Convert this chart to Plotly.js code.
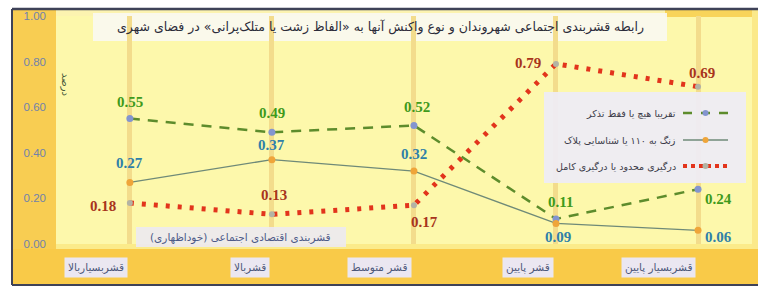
<!DOCTYPE html>
<html><head><meta charset="utf-8">
<script src="https://cdn.plot.ly/plotly-3.0.1.min.js"></script>
<style>html,body{margin:0;padding:0;background:#fff}#c{width:758px;height:289px}</style>
</head><body><div id="c"></div>
<script>
const categories = ["قشربسیاربالا", "قشربالا", "قشر متوسط", "قشر پایین", "قشربسیار پایین"];
const seriesNames = ["تقریبا هیچ یا فقط تذکر", "زنگ به ۱۱۰ یا شناسایی پلاک", "درگیری محدود یا درگیری کامل"];
const noneOrWarning = [0.55, 0.49, 0.52, 0.11, 0.24];
const callPolice = [0.27, 0.37, 0.32, 0.09, 0.06];
const conflict = [0.18, 0.13, 0.17, 0.79, 0.69];
const yTicks = [0, 0.2, 0.4, 0.6, 0.8, 1.0];
const titleText = "رابطه قشربندی اجتماعی شهروندان و نوع واکنش آنها به «الفاظ زشت یا متلک‌پرانی» در فضای شهری";
const xTitle = "قشربندی اقتصادی اجتماعی (خوداظهاری)";
const yTitle = "درصد";

// layout geometry (pixels)
const W = 758, H = 289, ML = 56, MR = 6, MT = 16, MB = 45;
const PW = W - ML - MR, PH = H - MT - MB;
function px(x){return (x - ML) / PW;}
function py(y){return (H - MB - y) / PH;}

// styles
const faFont = "DejaVu Sans";
const numFont = "Liberation Serif, DejaVu Serif, serif";
const styles = [
  {line: {color: "#5d8c2c", width: 2.5, dash: "10px,8px"}, marker: {color: "#8395cf", size: 7}, label: "#3f9a1c",
   shifts: [[0,17],[0,19],[3,18],[5,17],[20,-10]]},
  {line: {color: "#6f8a78", width: 1.3, dash: "solid"}, marker: {color: "#efa53a", size: 7}, label: "#2f80a8",
   shifts: [[0,19],[0,15],[0,17],[2,-14],[20,-7]]},
  {line: {color: "#e2341c", width: 5, dash: "4px,8px"}, marker: {color: "#b3b3a4", size: 6}, label: "#a8341c",
   shifts: [[-27,-3],[2,19],[11,-17],[-28,1],[4,14]]}
];
const series = [noneOrWarning, callPolice, conflict];

const traces = series.map((vals, i) => ({
  type: "scatter", mode: "lines+markers", x: categories, y: vals, name: seriesNames[i],
  line: styles[i].line, marker: styles[i].marker, showlegend: false, cliponaxis: false
}));

const annotations = [];
series.forEach((vals, i) => {
  vals.forEach((v, j) => {
    annotations.push({x: categories[j], y: v, xref: "x", yref: "y", text: v.toFixed(2), showarrow: false,
      xshift: styles[i].shifts[j][0], yshift: styles[i].shifts[j][1],
      font: {family: numFont, size: 15, color: styles[i].label, weight: "bold"}});
  });
});
// category labels
categories.forEach((c) => {
  annotations.push({x: c, xref: "x", y: py(267), yref: "paper", yanchor: "middle", xanchor: "right", xshift: -2,
    text: c, showarrow: false, bgcolor: "#ebe7f1", borderpad: 3,
    font: {family: faFont, size: 10.5, color: "#4d587a"}});
});
annotations.push({xref: "paper", yref: "paper", x: px(380), y: py(27), xanchor: "center", yanchor: "middle",
  text: titleText, showarrow: false, font: {family: faFont, size: 12.5, color: "#2c2c3a"}});
annotations.push({xref: "paper", yref: "paper", x: px(240), y: py(237), xanchor: "center", yanchor: "middle",
  text: xTitle, showarrow: false, font: {family: faFont, size: 10.5, color: "#4d5a88"}});
annotations.push({xref: "paper", yref: "paper", x: px(66), y: py(84), xanchor: "center", yanchor: "middle",
  text: yTitle, textangle: 90, showarrow: false, font: {family: faFont, size: 10, color: "#4a5a3a"}});
// legend text
const legY = [113, 140, 166];
seriesNames.forEach((n, i) => {
  annotations.push({xref: "paper", yref: "paper", x: px(678), y: py(legY[i]), xanchor: "right", yanchor: "middle",
    text: n, showarrow: false, font: {family: faFont, size: 9.5, color: "#3a3a48"}});
});

const shapes = [
  {type: "rect", xref: "paper", yref: "paper", x0: px(13), x1: px(56), y0: py(284), y1: py(10), fillcolor: "#f8cd52", line: {width: 0}, layer: "below"},
  {type: "rect", xref: "paper", yref: "paper", x0: px(13), x1: px(758), y0: py(284), y1: py(249), fillcolor: "#f9ca48", line: {width: 0}, layer: "below"},
  {type: "rect", xref: "paper", yref: "paper", x0: px(56), x1: px(758), y0: py(16), y1: py(10), fillcolor: "#fcf3b0", line: {width: 0}, layer: "below"},
  {type: "rect", xref: "paper", yref: "paper", x0: px(665), x1: px(758), y0: py(17), y1: py(10), fillcolor: "#f8d45a", line: {width: 0}, layer: "below"},
  {type: "rect", xref: "paper", yref: "paper", x0: px(752), x1: px(758), y0: py(249), y1: py(10), fillcolor: "#fbe98a", line: {width: 0}, layer: "below"},
  {type: "rect", xref: "paper", yref: "paper", x0: px(56), x1: px(752), y0: py(249), y1: py(244), fillcolor: "#fbeb8a", line: {width: 0}, layer: "below"},
  // title box
  {type: "rect", xref: "paper", yref: "paper", x0: px(93), x1: px(667), y0: py(41), y1: py(13), fillcolor: "rgba(250,249,240,0.92)", line: {width: 0}, layer: "below"},
  // x-title box
  {type: "rect", xref: "paper", yref: "paper", x0: px(136), x1: px(346), y0: py(247), y1: py(227), fillcolor: "rgba(236,233,241,0.9)", line: {width: 0}},
  // legend box
  {type: "rect", xref: "paper", yref: "paper", x0: px(544), x1: px(746), y0: py(183), y1: py(92), fillcolor: "rgba(238,236,246,0.93)", line: {width: 0}},
  // frame
  {type: "line", xref: "paper", yref: "paper", x0: px(12), x1: px(758), y0: py(9), y1: py(9), line: {color: "#3e4258", width: 2.5}},
  {type: "line", xref: "paper", yref: "paper", x0: px(12), x1: px(12), y0: py(9), y1: py(285), line: {color: "#3e4258", width: 2}},
  {type: "line", xref: "paper", yref: "paper", x0: px(12), x1: px(758), y0: py(285), y1: py(285), line: {color: "#3e4258", width: 2}}
];
// legend symbols
const symX0 = 683, symX1 = 728;
styles.forEach((s, i) => {
  shapes.push({type: "line", xref: "paper", yref: "paper", x0: px(symX0), x1: px(symX1), y0: py(legY[i]), y1: py(legY[i]),
    line: {color: s.line.color, width: Math.min(s.line.width, 4), dash: i === 0 ? "dash" : (i === 1 ? "solid" : "dot")}});
  const cx = (symX0 + symX1) / 2;
  shapes.push({type: "circle", xref: "paper", yref: "paper", x0: px(cx - 3), x1: px(cx + 3), y0: py(legY[i] + 3), y1: py(legY[i] - 3),
    fillcolor: s.marker.color, line: {width: 0}});
});

const layout = {
  width: W, height: H, margin: {l: ML, r: MR, t: MT, b: MB},
  paper_bgcolor: "#ffffff", plot_bgcolor: "#fdf8ab",
  showlegend: false,
  xaxis: {type: "category", range: [-0.52, 4.38], showticklabels: false, showgrid: true, gridcolor: "#f3dc8c", gridwidth: 5,
    zeroline: false, showline: false, ticks: "", fixedrange: true},
  yaxis: {range: [0, 1], tickvals: yTicks, ticktext: yTicks.map(v => v.toFixed(2)), showgrid: false, zeroline: false,
    showline: false, ticks: "", tickfont: {family: "Liberation Sans, Arial, sans-serif", size: 11.5, color: "#7282aa"}, ticklabelstandoff: 9},
  annotations: annotations, shapes: shapes
};
Plotly.newPlot("c", traces, layout, {displayModeBar: false, staticPlot: true});
</script></body></html>
